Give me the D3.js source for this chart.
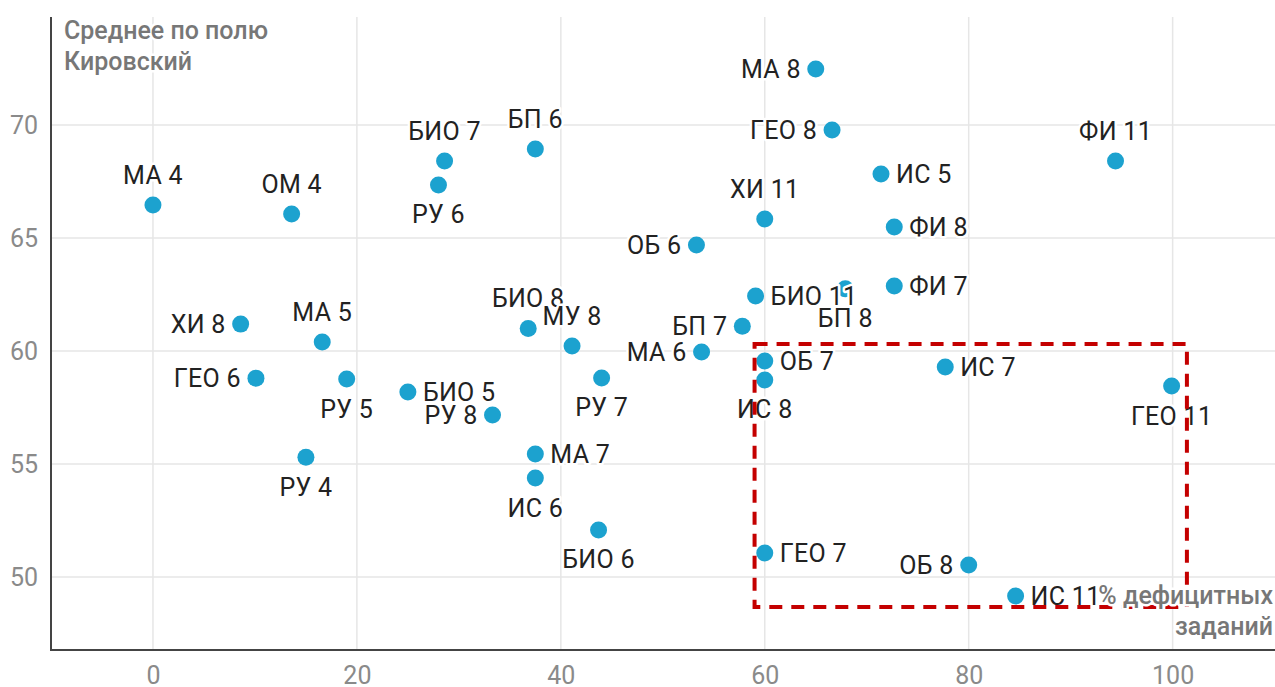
<!DOCTYPE html>
<html>
<head>
<meta charset="utf-8">
<script src="https://cdn.jsdelivr.net/npm/d3@7"></script>
<style>
  body { margin: 0; background: #fff; }
  svg { font-family: Roboto, "Noto Sans", sans-serif; }
  .halo { paint-order: stroke; stroke: #fff; stroke-width: 5px; stroke-linejoin: round; }
</style>
</head>
<body>
<div id="chart"></div>
<script>
// subject + grade labels
const names = ['МА 4','ОМ 4','БИО 7','РУ 6','БП 6','МА 8','ГЕО 8','ИС 5','ФИ 11','ХИ 11',
  'ФИ 8','ОБ 6','ФИ 7','БИО 11','БП 8','БП 7','БИО 8','МУ 8','МА 6','ОБ 7',
  'ИС 8','РУ 7','БИО 5','РУ 8','ХИ 8','МА 5','ГЕО 6','РУ 5','РУ 4','МА 7',
  'ИС 6','БИО 6','ГЕО 7','ОБ 8','ИС 11','ИС 7','ГЕО 11']
// % дефицитных заданий
const xValues = [0, 13.6, 28.6, 28.0, 37.5, 65.0, 66.6, 71.4, 94.4, 60.0,
  72.7, 53.3, 72.7, 59.1, 67.9, 57.8, 36.8, 41.1, 53.8, 60.0,
  60.0, 44.0, 25.0, 33.3, 8.6, 16.6, 10.1, 19.0, 15.0, 37.5,
  37.5, 43.7, 60.0, 80.0, 84.6, 77.7, 99.9]
// Среднее по полю Кировский
const yValues = [66.46, 66.06, 68.41, 67.35, 68.94, 72.48, 69.78, 67.83, 68.41, 65.84,
  65.49, 64.69, 62.88, 62.43, 62.75, 61.1, 61.0, 60.22, 59.96, 59.56,
  58.72, 58.81, 58.19, 57.17, 61.19, 60.4, 58.8, 58.76, 55.3, 55.44,
  54.38, 52.08, 51.06, 50.53, 49.16, 59.29, 58.45]
const labelPos = ['top','top','top','bottom','top','left','left','right','top','top',
  'right','left','right','right','bottom','left','top','top','left','right',
  'bottom','bottom','right','left','left','top','left','bottom','bottom','right',
  'bottom','bottom','right','left','right','right','bottom']

const xTicks = [0, 20, 40, 60, 80, 100]
const yTicks = [50, 55, 60, 65, 70]
// highlighted region: x from/to, y from/to
const boxX = [59.0, 101.4]
const boxY = [48.67, 60.31]

const width = 1275
const height = 687

const svg = d3.select('#chart')
  .append('svg')
  .attr('width', width)
  .attr('height', height)

const x = d3.scaleLinear().domain([-10, 110]).range([51, 1274.6])
const y = d3.scaleLinear().domain([46.77, 74.78]).range([650, 17])

// grid
svg.append('g')
  .selectAll('line')
  .data(xTicks)
  .enter()
  .append('line')
  .attr('x1', d => x(d)).attr('x2', d => x(d))
  .attr('y1', y.range()[1]).attr('y2', y.range()[0])
  .attr('stroke', '#e6e6e6').attr('stroke-width', 1.5)

svg.append('g')
  .selectAll('line')
  .data(yTicks)
  .enter()
  .append('line')
  .attr('x1', x.range()[0]).attr('x2', width)
  .attr('y1', d => y(d)).attr('y2', d => y(d))
  .attr('stroke', '#e6e6e6').attr('stroke-width', 1.5)

// axes
const xAxis = d3.axisBottom(x).tickValues(xTicks).tickSize(0).tickPadding(16)
const yAxis = d3.axisLeft(y).tickValues(yTicks).tickSize(0).tickPadding(13)

const gx = svg.append('g')
  .attr('transform', 'translate(0,' + y.range()[0] + ')')
  .call(xAxis)
gx.select('.domain').remove()

const gy = svg.append('g')
  .attr('transform', 'translate(' + x.range()[0] + ',0)')
  .call(yAxis)
gy.select('.domain').remove()

svg.selectAll('.tick text')
  .style('font-size', '25px')
  .style('font-family', 'Roboto, sans-serif')
  .attr('fill', '#8a8a8a')

// axis lines
svg.append('line')
  .attr('x1', x.range()[0]).attr('x2', x.range()[0])
  .attr('y1', y.range()[1]).attr('y2', y.range()[0] + 1)
  .attr('stroke', '#444').attr('stroke-width', 2)
svg.append('line')
  .attr('x1', x.range()[0]).attr('x2', width)
  .attr('y1', y.range()[0]).attr('y2', y.range()[0])
  .attr('stroke', '#444').attr('stroke-width', 2)

// dots
svg.append('g')
  .selectAll('circle')
  .data(names)
  .enter()
  .append('circle')
  .attr('cx', (d, i) => x(xValues[i]))
  .attr('cy', (d, i) => y(yValues[i]))
  .attr('r', 8.5)
  .attr('fill', '#1ca2cf')

// labels
svg.append('g')
  .selectAll('text')
  .data(names)
  .enter()
  .append('text')
  .attr('class', 'halo')
  .attr('x', function(d, i) {
    const cx = x(xValues[i])
    if (labelPos[i] == 'left') return cx - 15
    if (labelPos[i] == 'right') return cx + 15
    return cx
  })
  .attr('y', function(d, i) {
    const cy = y(yValues[i])
    if (labelPos[i] == 'top') return cy - 21
    if (labelPos[i] == 'bottom') return cy + 38.5
    return cy + 9
  })
  .attr('text-anchor', function(d, i) {
    if (labelPos[i] == 'left') return 'end'
    if (labelPos[i] == 'right') return 'start'
    return 'middle'
  })
  .style('font-size', '25px')
  .style('letter-spacing', '0.3px')
  .attr('fill', '#222')
  .text(d => d)

// highlight box
svg.append('rect')
  .attr('x', x(boxX[0]))
  .attr('y', y(boxY[1]))
  .attr('width', x(boxX[1]) - x(boxX[0]))
  .attr('height', y(boxY[0]) - y(boxY[1]))
  .attr('fill', 'none')
  .attr('stroke', '#c40000')
  .attr('stroke-width', 4)
  .attr('stroke-dasharray', '13,9')

// axis titles
const yTitle = svg.append('text')
  .attr('class', 'halo')
  .attr('x', 64)
  .attr('y', 39)
  .style('font-size', '25px')
  .style('font-weight', '500')
  .attr('fill', '#777')
yTitle.append('tspan').attr('x', 64).text('Среднее по полю')
yTitle.append('tspan').attr('x', 64).attr('dy', 31).text('Кировский')

const xTitle = svg.append('text')
  .attr('class', 'halo')
  .attr('text-anchor', 'end')
  .attr('y', 604)
  .style('font-size', '25px')
  .style('font-weight', '500')
  .attr('fill', '#777')
xTitle.append('tspan').attr('x', 1273).text('% дефицитных')
xTitle.append('tspan').attr('x', 1273).attr('dy', 31).text('заданий')
</script>
</body>
</html>
